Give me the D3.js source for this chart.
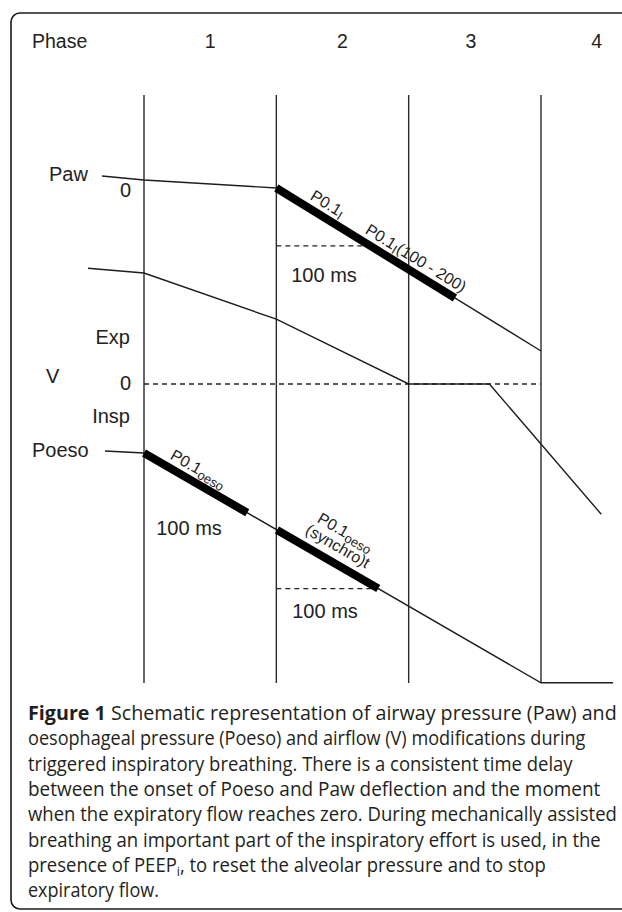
<!DOCTYPE html>
<html>
<head>
<meta charset="utf-8">
<script src="https://cdn.jsdelivr.net/npm/d3@7"></script>
<style>
	html, body { margin: 0; padding: 0; background: #fff; }
	svg { display: block; }
	.lbl { font-family: "Liberation Sans", Arial, sans-serif; fill: #222; }
	.cap { font-family: "Open Sans", sans-serif; fill: #231f20; }
</style>
</head>
<body>
<div id="graph"></div>
<script>
// phase columns
var phases = ["1", "2", "3", "4"];
var phaseBounds = [0, 1, 2, 3];

// traces as [time (phase units), value (relative to own zero)]
var pawData = [[-0.317, 0.67], [0, 0], [1, -1.33], [3, -28.5]];
var flowData = [[-0.423, 19.3], [0, 18.5], [1, 10.8], [2, 0], [2.61, 0], [3.455, -21.7]];
var poesoData = [[-0.295, 0.33], [0, 0], [3, -38.3], [3.545, -38.3]];
var flowZero = [0, 3];

// thick P0.1 segments and the 100 ms dashed markers (time ranges)
var pawBars = [[1, 2.35]];
var poesoBars = [[0, 0.78], [1.005, 1.77]];
var pawDash = [1, 1.71];
var poesoDash = [1, 1.77];

var captionLines = [
	"Schematic representation of airway pressure (Paw) and",
	"oesophageal pressure (Poeso) and airflow (V) modifications during",
	"triggered inspiratory breathing. There is a consistent time delay",
	"between the onset of Poeso and Paw deflection and the moment",
	"when the expiratory flow reaches zero. During mechanically assisted",
	"breathing an important part of the inspiratory effort is used, in the",
	"presence of PEEP",
	"expiratory flow."
];
// right end of each caption line in the original
var captionEnds = [617, 586, 573, 601, 617, 601, 546, 159];

var W = 622, H = 912;
var gridTop = 95, gridBottom = 683;

var svg = d3.select("#graph").append("svg")
	.attr("width", W)
	.attr("height", H);

var x = d3.scaleLinear().domain([0, 3]).range([144, 541]);
var unit = 6;
var yPaw = d3.scaleLinear().domain([0, 1]).range([180, 180 - unit]),
	yFlow = d3.scaleLinear().domain([0, 1]).range([384, 384 - unit]),
	yPoeso = d3.scaleLinear().domain([0, 1]).range([453, 453 - unit]);

// frame
svg.append("rect")
	.attr("x", 11).attr("y", 13)
	.attr("width", 660).attr("height", 896)
	.attr("rx", 9)
	.attr("fill", "none")
	.attr("stroke", "#1a1a1a")
	.attr("stroke-width", 1.6);

// phase header
svg.append("text").attr("class", "lbl")
	.attr("x", 32).attr("y", 48)
	.attr("font-size", 19.5)
	.text("Phase");

var mids = [0.5, 1.5, 2.47, 3.42];
svg.selectAll(".ph").data(phases).enter()
	.append("text").attr("class", "lbl ph")
	.attr("x", function(d, i){ return x(mids[i]); })
	.attr("y", 48)
	.attr("font-size", 19.5)
	.attr("text-anchor", "middle")
	.text(function(d){ return d; });

// phase boundaries
svg.selectAll(".bound").data(phaseBounds).enter()
	.append("line").attr("class", "bound")
	.attr("x1", function(d){ return x(d); })
	.attr("x2", function(d){ return x(d); })
	.attr("y1", gridTop).attr("y2", gridBottom)
	.attr("stroke", "#2a2a2a")
	.attr("stroke-width", 1.4);

function lineFor(y){
	return d3.line()
		.x(function(d){ return x(d[0]); })
		.y(function(d){ return y(d[1]); });
}

// value of a trace at time t
function valueAt(data, t){
	for (var i = 0; i < data.length - 1; i++){
		var a = data[i], b = data[i + 1];
		if (t >= a[0] && t <= b[0]){
			return a[1] + (b[1] - a[1]) * (t - a[0]) / (b[0] - a[0]);
		}
	}
	return data[data.length - 1][1];
}

function segment(data, range){
	var pts = [[range[0], valueAt(data, range[0])]];
	data.forEach(function(d){ if (d[0] > range[0] && d[0] < range[1]) pts.push(d); });
	pts.push([range[1], valueAt(data, range[1])]);
	return pts;
}

// angle of the trace at t, in degrees on screen
function angleAt(data, y, t){
	var a = [x(t - 0.01), y(valueAt(data, t - 0.01))],
		b = [x(t + 0.01), y(valueAt(data, t + 0.01))];
	return Math.atan2(b[1] - a[1], b[0] - a[0]) * 180 / Math.PI;
}

var dashStyle = "5,4";

// flow zero line
svg.append("line")
	.attr("x1", x(flowZero[0])).attr("x2", x(flowZero[1]))
	.attr("y1", yFlow(0)).attr("y2", yFlow(0))
	.attr("stroke", "#222")
	.attr("stroke-width", 1.4)
	.attr("stroke-dasharray", dashStyle);

// 100 ms dashed markers
[[pawData, yPaw, pawDash], [poesoData, yPoeso, poesoDash]].forEach(function(m){
	var yv = m[1](valueAt(m[0], m[2][1]));
	svg.append("line")
		.attr("x1", x(m[2][0])).attr("x2", x(m[2][1]))
		.attr("y1", yv).attr("y2", yv)
		.attr("stroke", "#222")
		.attr("stroke-width", 1.3)
		.attr("stroke-dasharray", dashStyle);
});

// traces
[[pawData, yPaw], [flowData, yFlow], [poesoData, yPoeso]].forEach(function(s){
	svg.append("path")
		.attr("d", lineFor(s[1])(s[0]))
		.attr("fill", "none")
		.attr("stroke", "#1e1e1e")
		.attr("stroke-width", 1.4);
});

// thick bars
pawBars.forEach(function(r){
	svg.append("path")
		.attr("d", lineFor(yPaw)(segment(pawData, r)))
		.attr("fill", "none").attr("stroke", "#000").attr("stroke-width", 8);
});
poesoBars.forEach(function(r){
	svg.append("path")
		.attr("d", lineFor(yPoeso)(segment(poesoData, r)))
		.attr("fill", "none").attr("stroke", "#000").attr("stroke-width", 8);
});

// rotated labels along the bars: parts are [text, subscript?]
var barLabels = [
	{data: pawData, y: yPaw, t: 1.217, d: 8, parts: [["P0.1", 0], ["I", 1]]},
	{data: pawData, y: yPaw, t: 1.632, d: 8, parts: [["P0.1", 0], ["I", 1], ["(100 - 200)", 0]]},
	{data: poesoData, y: yPoeso, t: 0.16, d: 8, parts: [["P0.1", 0], ["oeso", 1]]},
	{data: poesoData, y: yPoeso, t: 1.2, d: 27, parts: [["P0.1", 0], ["oeso", 1]]},
	{data: poesoData, y: yPoeso, t: 1.17, d: 11, parts: [["(synchro)t", 0]]}
];

barLabels.forEach(function(l){
	var ang = angleAt(l.data, l.y, l.t),
		th = ang * Math.PI / 180,
		px = x(l.t) + Math.sin(th) * l.d,
		py = l.y(valueAt(l.data, l.t)) - Math.cos(th) * l.d;
	var t = svg.append("text").attr("class", "lbl")
		.attr("font-size", 16)
		.attr("transform", "translate(" + px + "," + py + ") rotate(" + ang + ")");
	var shift = 0;
	l.parts.forEach(function(p){
		var dy = p[1] ? 3 - shift : -shift;
		shift = p[1] ? 3 : 0;
		t.append("tspan")
			.attr("dy", dy)
			.attr("font-size", p[1] ? 13 : 16)
			.text(p[0]);
	});
});

// axis labels
var labels = [
	{text: "Paw", x: 49, y: 181, anchor: "start"},
	{text: "0", x: 131, y: 197, anchor: "end"},
	{text: "Exp", x: 130, y: 344, anchor: "end"},
	{text: "V", x: 46, y: 383, anchor: "start"},
	{text: "0", x: 131, y: 390, anchor: "end"},
	{text: "Insp", x: 130, y: 423, anchor: "end"},
	{text: "Poeso", x: 32, y: 457, anchor: "start"},
	{text: "100 ms", x: 324, y: 282, anchor: "middle"},
	{text: "100 ms", x: 189, y: 535, anchor: "middle"},
	{text: "100 ms", x: 325, y: 618, anchor: "middle"}
];
svg.selectAll(".ax").data(labels).enter()
	.append("text").attr("class", "lbl ax")
	.attr("x", function(d){ return d.x; })
	.attr("y", function(d){ return d.y; })
	.attr("font-size", 20)
	.attr("text-anchor", function(d){ return d.anchor; })
	.text(function(d){ return d.text; });

// caption, each line fitted to its width in the original
var capX = 28, capY = 720, capStep = 25.3, capSize = 19.5;
var rows = svg.append("g").attr("class", "cap-g")
	.selectAll("text").data(captionLines).enter()
	.append("text").attr("class", "cap")
	.attr("x", 0).attr("y", 0)
	.attr("font-size", capSize);

rows.each(function(d, i){
	var el = d3.select(this);
	if (i == 0){
		el.append("tspan").attr("font-weight", "bold").text("Figure 1 ");
	}
	el.append("tspan").text(d);
	if (i == 6){
		el.append("tspan").attr("font-size", 13).attr("dy", 4).text("i");
		el.append("tspan").attr("dy", -4).text(", to reset the alveolar pressure and to stop");
	}
	var w = this.getComputedTextLength(),
		sx = (captionEnds[i] - capX) / w;
	el.attr("transform", "translate(" + capX + "," + (capY + i * capStep) + ") scale(" + sx + ",1)");
});
</script>
</body>
</html>
